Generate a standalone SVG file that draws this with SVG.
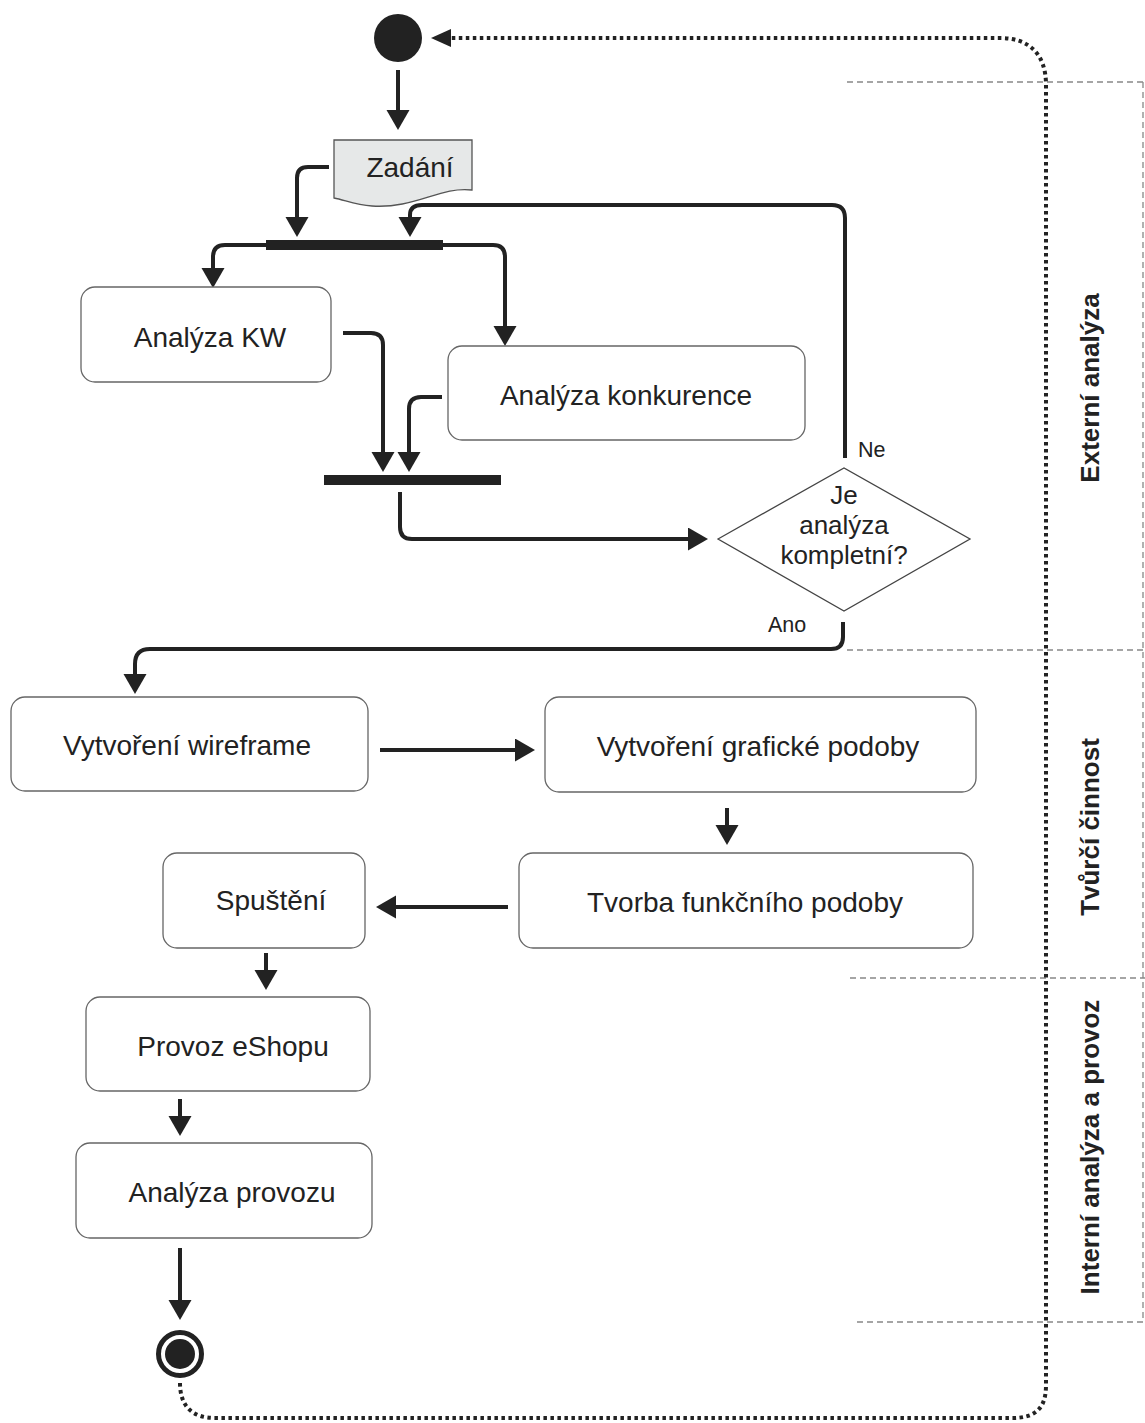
<svg xmlns="http://www.w3.org/2000/svg" width="1145" height="1423" viewBox="0 0 1145 1423">
<defs>
<style>
.box{fill:#fff;stroke:#666;stroke-width:1.3}
.t{font-family:"Liberation Sans",Arial,sans-serif;font-size:28px;fill:#222;text-anchor:middle}
.st{font-family:"Liberation Sans",Arial,sans-serif;font-size:26px;fill:#222;text-anchor:middle}
.lb{font-family:"Liberation Sans",Arial,sans-serif;font-size:21.5px;fill:#222}
.lane{font-family:"Liberation Sans",Arial,sans-serif;font-size:26px;font-weight:bold;fill:#222;text-anchor:middle}
.c{fill:none;stroke:#222;stroke-width:4;marker-end:url(#ah)}
.dot{fill:none;stroke:#222;stroke-width:4;stroke-dasharray:3.5 3.5;marker-end:url(#ahd)}
.sw{fill:none;stroke:#888;stroke-width:1.3;stroke-dasharray:6 4}
.bar{fill:#222}
</style>
<marker id="ah" markerUnits="userSpaceOnUse" markerWidth="22" markerHeight="24" refX="2" refY="11.5" orient="auto"><path d="M0,0 L20,11.5 L0,23 z" fill="#222"/></marker>
<marker id="ahd" markerUnits="userSpaceOnUse" markerWidth="22" markerHeight="20" refX="1" refY="9" orient="auto"><path d="M0,0 L20,9 L0,18 z" fill="#222"/></marker>
</defs>
<g id="swimlanes">
<path class="sw" d="M847,82 H1145 M847,650 H1145 M850,978 H1145 M857,1322 H1145 M1143,82 V1322"/>
<text class="lane" x="1099" y="388" transform="rotate(-90 1099 388)">Externí analýza</text>
<text class="lane" x="1099" y="827" transform="rotate(-90 1099 827)">Tvůrčí činnost</text>
<text class="lane" x="1099" y="1147" transform="rotate(-90 1099 1147)">Interní analýza a provoz</text>
</g>
<g id="connectors">
<path class="c" d="M398,70 V112"/>
<path class="c" d="M329,167 H308 Q297,167 297,178 V219"/>
<path class="c" d="M845,458 V218 Q845,205 832,205 H422 Q410,205 410,215 V219"/>
<path class="c" d="M266,245 H225 Q213,245 213,257 V270"/>
<path class="c" d="M443,245 H493 Q505,245 505,257 V328"/>
<path class="c" d="M343,333 H371 Q383,333 383,345 V454"/>
<path class="c" d="M442,397 H421 Q409,397 409,409 V454"/>
<path class="c" d="M400,492 V527 Q400,539 412,539 H690"/>
<path class="c" d="M843,622 V637 Q843,649 831,649 H150 Q135,649 135,664 V676"/>
<path class="c" d="M380,750 H517"/>
<path class="c" d="M727,808 V827"/>
<path class="c" d="M508,907 H394"/>
<path class="c" d="M266,953 V972"/>
<path class="c" d="M180,1099 V1118"/>
<path class="c" d="M180,1248 V1302"/>
<path class="dot" d="M180,1383 C180,1406 192,1418 215,1418 H1012 C1036,1418 1046,1408 1046,1385 V85 C1046,55 1030,38 1000,38 H450"/>
<text class="lb" x="858" y="457">Ne</text>
<text class="lb" x="768" y="632">Ano</text>
</g>
<g id="start"><circle cx="398" cy="38" r="24" fill="#222"/></g>
<g id="zadani">
<path d="M334,140 H472 V190 C440,186 415,209 372,206 C355,205 345,200 334,198 Z" fill="#e6e8e8" stroke="#555" stroke-width="1.3"/>
<text class="t" x="410" y="177">Zadání</text>
</g>
<g id="fork"><rect class="bar" x="266" y="240" width="177" height="10"/></g>
<g id="analyza-kw"><rect class="box" x="81" y="287" width="250" height="95" rx="14"/><text class="t" x="210" y="347">Analýza KW</text></g>
<g id="analyza-konkurence"><rect class="box" x="448" y="346" width="357" height="94" rx="14"/><text class="t" x="626" y="405">Analýza konkurence</text></g>
<g id="join"><rect class="bar" x="324" y="475" width="177" height="10"/></g>
<g id="decision">
<path d="M718,539 L844,468 L970,539 L844,611 Z" fill="#fff" stroke="#444" stroke-width="1.3"/>
<text class="st" x="844" y="504">Je</text>
<text class="st" x="844" y="534">analýza</text>
<text class="st" x="844" y="564">kompletní?</text>
</g>
<g id="wireframe"><rect class="box" x="11" y="697" width="357" height="94" rx="14"/><text class="t" x="187" y="755">Vytvoření wireframe</text></g>
<g id="graficke"><rect class="box" x="545" y="697" width="431" height="95" rx="14"/><text class="t" x="758" y="756">Vytvoření grafické podoby</text></g>
<g id="tvorba"><rect class="box" x="519" y="853" width="454" height="95" rx="14"/><text class="t" x="745" y="912">Tvorba funkčního podoby</text></g>
<g id="spusteni"><rect class="box" x="163" y="853" width="202" height="95" rx="14"/><text class="t" x="271" y="910">Spuštění</text></g>
<g id="provoz"><rect class="box" x="86" y="997" width="284" height="94" rx="14"/><text class="t" x="233" y="1056">Provoz eShopu</text></g>
<g id="analyza-provozu"><rect class="box" x="76" y="1143" width="296" height="95" rx="14"/><text class="t" x="232" y="1202">Analýza provozu</text></g>
<g id="end">
<circle cx="180" cy="1354" r="21.5" fill="#fff" stroke="#222" stroke-width="5"/>
<circle cx="180" cy="1354" r="15" fill="#222"/>
</g>
</svg>
